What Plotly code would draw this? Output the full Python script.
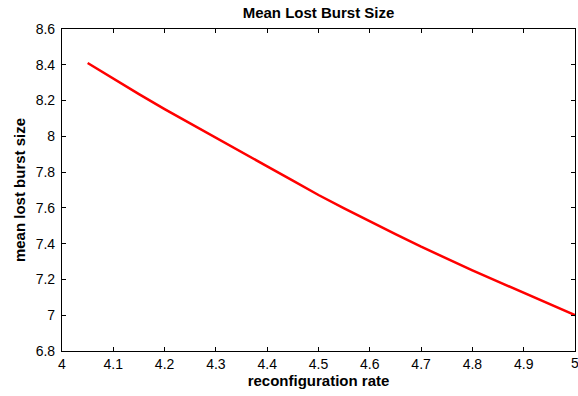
import plotly.graph_objects as go

rate = [4.05, 4.10, 4.15, 4.20, 4.25, 4.30, 4.35, 4.40, 4.45, 4.50,
        4.55, 4.60, 4.65, 4.70, 4.75, 4.80, 4.85, 4.90, 4.95, 5.00]
burst = [8.41, 8.322, 8.236, 8.152, 8.071, 7.992, 7.913, 7.832, 7.752, 7.672,
         7.597, 7.524, 7.453, 7.383, 7.316, 7.251, 7.188, 7.126, 7.063, 7.00]

x_ticks = [4.0, 4.1, 4.2, 4.3, 4.4, 4.5, 4.6, 4.7, 4.8, 4.9, 5.0]
x_labels = ["4", "4.1", "4.2", "4.3", "4.4", "4.5", "4.6", "4.7", "4.8", "4.9", "5"]
y_ticks = [6.8, 7.0, 7.2, 7.4, 7.6, 7.8, 8.0, 8.2, 8.4, 8.6]
y_labels = ["6.8", "7", "7.2", "7.4", "7.6", "7.8", "8", "8.2", "8.4", "8.6"]

font_family = "Liberation Sans, Arial, Helvetica, sans-serif"

fig = go.Figure()
fig.add_trace(go.Scatter(x=rate, y=burst, mode="lines",
                         line=dict(color="#ff0000", width=2.5),
                         showlegend=False))

axis_common = dict(showgrid=False, zeroline=False, showline=True, linecolor="black",
                   linewidth=1.2, mirror="ticks", ticks="inside", ticklen=4,
                   tickcolor="black", tickwidth=1,
                   tickfont=dict(family=font_family, size=14, color="black"))

fig.update_xaxes(range=[4, 5], tickvals=x_ticks, ticktext=x_labels,
                 title=dict(text="<b>reconfiguration rate</b>", standoff=2,
                            font=dict(family=font_family, size=15, color="black")),
                 **axis_common)
fig.update_yaxes(range=[6.8, 8.6], tickvals=y_ticks, ticktext=y_labels,
                 ticklabelstandoff=3,
                 title=dict(text="<b>mean lost burst size</b>", standoff=6,
                            font=dict(family=font_family, size=15, color="black")),
                 **axis_common)

# last tick label at the right edge (partly outside the page, as in the reference)
fig.add_annotation(x=x_ticks[-1], xref="x", y=0, yref="paper",
                   text=x_labels[-1], showarrow=False, xanchor="center",
                   yanchor="top", yshift=-2,
                   font=dict(family=font_family, size=14, color="black"))

fig.update_layout(
    width=578, height=396,
    margin=dict(l=62, r=3, t=29, b=45),
    paper_bgcolor="white", plot_bgcolor="white",
    title=dict(text="<b>Mean Lost Burst Size</b>", xref="paper", x=0.5,
               xanchor="center", yref="container", y=1 - 13 / 396,
               yanchor="middle",
               font=dict(family=font_family, size=15, color="black")),
)

fig.write_html("out.html", config={"displayModeBar": False},
               post_script="document.body.style.margin='0';document.body.style.overflow='hidden';")
